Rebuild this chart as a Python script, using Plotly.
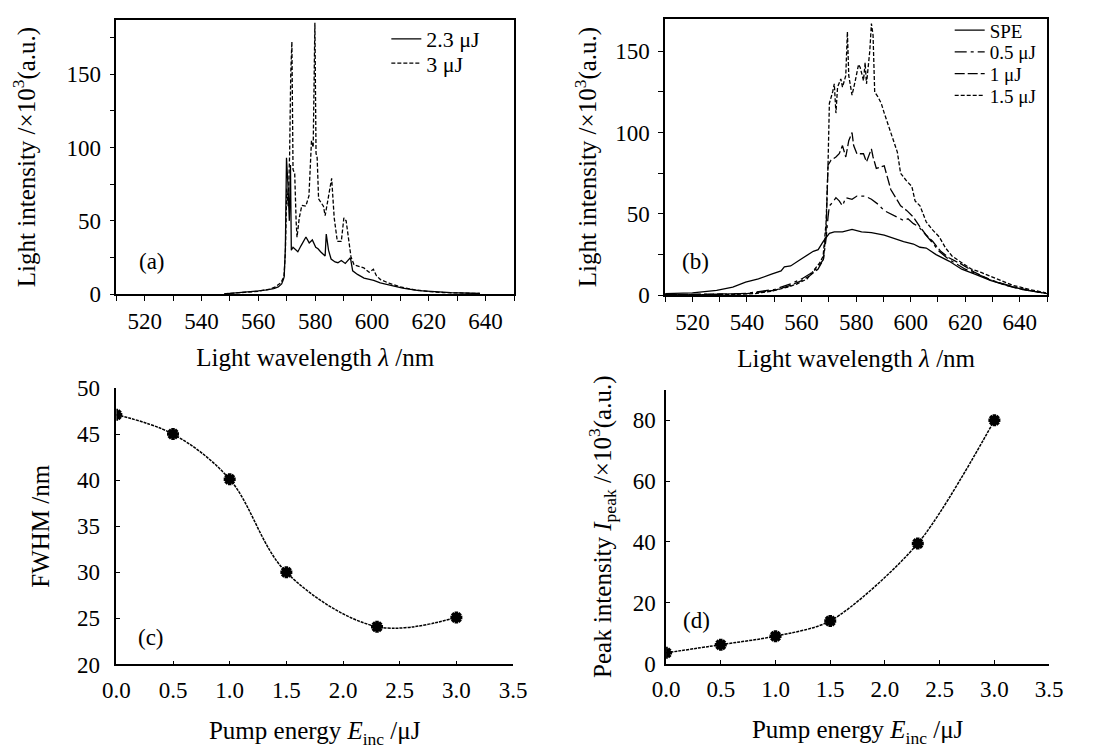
import plotly.graph_objects as go
from plotly.subplots import make_subplots

# ---------------- data ----------------
# (a) lasing spectra
wl_a_23 = [548, 552, 556, 560, 563, 565.4, 567, 568.2, 568.8, 569.1, 569.5, 569.9, 570.4, 570.9, 571.3,
           571.6, 572.2, 573.3, 573.9, 575, 576.75, 577.9, 579.0, 580.2, 581.0, 581.9, 583.0, 583.5,
           583.9, 584.7, 585.6, 587.0, 588, 589.2, 590.6, 591.5, 592.4, 593.2, 594.9, 597.2, 600.6,
           602.9, 606.3, 610.8, 616.5, 622.2, 627.8, 638]
int_a_23 = [0.3, 0.8, 1.5, 2.3, 3, 3.8, 5, 7, 10, 12, 31, 93, 75, 50, 88,
            30, 32, 30, 29, 33, 39, 35, 37, 32, 31, 29, 27, 26,
            41, 30, 24, 22, 21.5, 23, 21, 23, 25, 16, 13.5, 11, 9.5,
            7.7, 6.2, 4.2, 2.5, 1.6, 1.1, 0.5]

wl_a_3 = [548, 556, 560, 564, 566, 568, 569, 569.5, 570, 570.5, 571, 571.4, 571.8, 572.2, 572.8,
          573.3, 573.6, 574.4, 575.3, 576.7, 577.8, 578.7, 579.3, 579.9, 580.3, 580.7, 581.2, 582.9,
          583.5, 584.1, 585.2, 585.8, 586.7, 587.8, 589.2, 590.1, 590.9, 591.7, 592.6, 593.7, 597.1,
          599, 600.5, 601.6, 603, 606, 610, 615, 620, 625, 630, 638]
int_a_3 = [0.3, 1.2, 2, 3.5, 5, 8, 12, 28, 72, 60, 95, 150, 172, 85, 82,
           49.5, 38.8, 52, 60.5, 60, 67, 104.6, 100, 185, 96, 93, 65, 60,
           53.5, 60, 71.5, 79, 52, 36, 36, 52, 50, 38, 25.6, 20, 18,
           15, 17, 12.5, 10, 7.5, 5, 3, 1.8, 1.2, 0.8, 0.5]

# (b) spectra at low pump energies
wl_spe = [510, 520, 528.9, 534.8, 539.5, 544.2, 549, 552.5, 553.7, 556, 559.6, 562.6, 564.3, 566.1,
          567.9, 570.2, 572, 575, 578.5, 582, 585.6, 590.3, 593.9, 597.4, 601, 603.4, 605.7, 609.3,
          614, 618.7, 623.5, 629.4, 635.3, 640, 644.7, 650]
int_spe = [1, 1.5, 3, 5, 8, 10, 13, 15, 17.5, 18, 22, 25, 27, 28,
           33, 38, 39, 39, 40.5, 39, 38.5, 37, 35, 33, 31.5, 29.5, 29, 25,
           21, 16, 13, 9, 6, 4, 2.5, 1]

wl_05 = [510, 530, 540, 550, 556, 560, 563, 566, 568, 569, 569.7, 570.2, 571.4, 572.6, 573.8, 575,
         576.2, 578.5, 580.3, 583.3, 585.6, 588, 590.3, 592.7, 595.1, 597.4, 599, 601, 603,
         605.7, 608.1, 610.4, 614, 620, 625.8, 631, 637, 643, 649.5]
int_05 = [0.3, 0.5, 1.2, 3.5, 7, 10, 13, 17, 22, 35, 48, 55, 57, 60, 58, 55,
          60, 59, 61, 61, 59, 56, 52, 50, 48, 46, 47, 44, 42,
          37, 32, 27, 22, 16, 12, 8.5, 5.5, 3, 1.2]

wl_1 = [510, 530, 540, 550, 556, 560, 563, 566, 568, 569, 569.7, 570.8, 572.6, 573.8, 575, 576.2,
        577.3, 578.5, 579.1, 580.3, 582.7, 583.8, 585.6, 586.2, 587.4, 590.3, 592.7, 594.5, 596.3,
        598.6, 601, 603.4, 605.7, 608.1, 611, 614, 618.7, 623.5, 629, 635, 641, 649.5]
int_1 = [0.3, 0.5, 1, 3, 6, 9, 12, 16, 22, 40, 80, 83, 85, 87, 92, 85,
         95, 100, 92, 87, 87, 82, 90, 85, 78, 79.5, 65, 60, 55,
         52, 48, 42, 37, 33, 27, 23, 19, 14, 9.5, 6, 3.5, 1.2]

wl_15 = [510, 520, 530, 536, 543, 549, 555, 558.4, 562, 564.3, 566.7, 567.9, 568.5, 569, 569.7,
         570.2, 571.4, 572, 572.6, 573.2, 574.4, 575, 576.2, 576.8, 577.3, 578.5, 579.7, 580.9,
         581.5, 582.7, 583.3, 583.8, 585, 585.6, 586.2, 586.8, 588, 589.2, 590.3, 592.7, 595.1,
         596.3, 598.6, 600.4, 601.6, 603.4, 605.7, 608.1, 610.4, 612.8, 615.2, 618.7, 622.3,
         625.8, 631.7, 637.6, 643.6, 649.5]
int_15 = [0.3, 0.3, 0.4, 0.5, 1, 2.5, 5, 7, 10, 15, 20, 24, 35, 45, 80,
          118, 125, 130, 112, 128, 133, 128, 135, 162, 135, 123, 132, 142,
          140, 132, 143, 130, 150, 167, 160, 125, 122, 118, 112, 100, 88,
          75, 70, 67, 58, 55, 45, 40, 36, 29, 24, 20, 16,
          14, 10, 6, 3.5, 1.5]

# (c), (d) vs pump energy
pump = [0.0, 0.5, 1.0, 1.5, 2.3, 3.0]
fwhm = [47.1, 45.0, 40.1, 30.0, 24.1, 25.1]
peak = [3.5, 6.2, 9.0, 14.0, 39.5, 80.0]

# ---------------- figure ----------------
W, H = 1106, 749
FONT = "Liberation Serif"
fig = make_subplots(rows=2, cols=2)


def px_x(p):
    return p / W


def px_y(p):
    return 1 - p / H


doms = {
    (1, 1): ([px_x(105), px_x(513)], [px_y(292), px_y(8)]),
    (1, 2): ([px_x(668), px_x(1060)], [px_y(293), px_y(7)]),
    (2, 1): ([px_x(105), px_x(512)], [px_y(675), px_y(389)]),
    (2, 2): ([px_x(669), px_x(1062)], [px_y(674), px_y(391)]),
}

lw = 1.3
fig.add_trace(go.Scatter(x=wl_a_23, y=int_a_23, mode="lines", name="2.3 μJ",
                         line=dict(color="black", width=lw), legend="legend"), row=1, col=1)
fig.add_trace(go.Scatter(x=wl_a_3, y=int_a_3, mode="lines", name="3 μJ",
                         line=dict(color="black", width=lw, dash="4px,2px"), legend="legend2"), row=1, col=1)

fig.add_trace(go.Scatter(x=wl_spe, y=int_spe, mode="lines", name="SPE",
                         line=dict(color="black", width=lw), legend="legend3"), row=1, col=2)
fig.add_trace(go.Scatter(x=wl_05, y=int_05, mode="lines", name="0.5 μJ",
                         line=dict(color="black", width=lw, dash="12px,4px,3px,4px"), legend="legend4"), row=1, col=2)
fig.add_trace(go.Scatter(x=wl_1, y=int_1, mode="lines", name="1 μJ",
                         line=dict(color="black", width=lw, dash="10px,3px"), legend="legend5"), row=1, col=2)
fig.add_trace(go.Scatter(x=wl_15, y=int_15, mode="lines", name="1.5 μJ",
                         line=dict(color="black", width=lw, dash="4px,2px"), legend="legend6"), row=1, col=2)

mk = dict(symbol="asterisk-open", size=10, color="black", line=dict(color="black", width=3.5))
fig.add_trace(go.Scatter(x=pump, y=fwhm, mode="lines+markers", showlegend=False,
                         line=dict(color="black", width=1.5, shape="spline", smoothing=1.0, dash="3px,1px"),
                         marker=mk), row=2, col=1)
fig.add_trace(go.Scatter(x=pump, y=peak, mode="lines+markers", showlegend=False,
                         line=dict(color="black", width=1.5, shape="spline", smoothing=0.8, dash="3px,1px"),
                         marker=mk), row=2, col=2)

tickfont = dict(family=FONT, size=23, color="black")
titlefont = dict(family=FONT, size=25, color="black")
axis_common = dict(showline=True, linecolor="black", linewidth=1.5, showgrid=False, zeroline=False,
                   tickfont=tickfont, tickcolor="black", tickwidth=1.3)

# panel (a) and (b) axes
for col, yr, ystand in ((1, [0, 187], 24), (2, [0, 170], 11)):
    fig.update_xaxes(**axis_common, range=[510, 650], tick0=520, dtick=20, ticks="outside", ticklen=5,
                     mirror=True,
                     minor=dict(dtick=10, tick0=510, ticks="outside", ticklen=5, tickcolor="black"),
                     domain=doms[(1, col)][0],
                     title=dict(text="Light wavelength <i>λ</i> /nm", font=titlefont, standoff=16),
                     row=1, col=col)
    fig.update_yaxes(**axis_common, range=yr, tick0=0, dtick=50, ticks="outside", ticklen=5, mirror=True,
                     ticklabelstandoff=4,
                     minor=dict(dtick=25, tick0=0, ticks="outside", ticklen=5, tickcolor="black"),
                     domain=doms[(1, col)][1],
                     title=dict(text="Light intensity /×10<sup>3</sup>(a.u.)", font=titlefont, standoff=ystand),
                     row=1, col=col)

# panel (c) and (d) axes
for col in (1, 2):
    fig.update_xaxes(**axis_common, range=[0, 3.5], tick0=0, dtick=0.5, tickformat=".1f", ticks="inside",
                     ticklen=4, ticklabelstandoff=4, domain=doms[(2, col)][0],
                     title=dict(text="Pump energy <i>E</i><sub>inc</sub> /μJ", font=titlefont, standoff=20),
                     row=2, col=col)
fig.update_yaxes(**axis_common, range=[20, 50], tick0=20, dtick=5, ticks="inside", ticklen=4,
                 ticklabelstandoff=10, domain=doms[(2, 1)][1],
                 title=dict(text="FWHM /nm", font=titlefont, standoff=20), row=2, col=1)
fig.update_yaxes(**axis_common, range=[0, 90], tick0=0, dtick=20, ticks="inside", ticklen=4,
                 ticklabelstandoff=4, domain=doms[(2, 2)][1],
                 title=dict(text="Peak intensity <i>I</i><sub>peak</sub> /×10<sup>3</sup>(a.u.)",
                            font=titlefont, standoff=14), row=2, col=2)

# panel labels
labfont = dict(family=FONT, size=23, color="black")
fig.add_annotation(text="(a)", x=522.7, y=22.4, xref="x", yref="y", showarrow=False, font=labfont)
fig.add_annotation(text="(b)", x=521.0, y=21.0, xref="x2", yref="y2", showarrow=False, font=labfont)
fig.add_annotation(text="(c)", x=0.31, y=22.9, xref="x3", yref="y3", showarrow=False, font=labfont)
fig.add_annotation(text="(d)", x=0.276, y=14.0, xref="x4", yref="y4", showarrow=False, font=labfont)


def leg(xp, yp, size):
    return dict(x=px_x(xp), y=px_y(yp), xanchor="left", yanchor="middle", bgcolor="rgba(0,0,0,0)",
                font=dict(family=FONT, size=size, color="black"), itemwidth=30, borderwidth=0)


fig.update_layout(
    width=W, height=H, margin=dict(l=0, r=0, t=0, b=0),
    paper_bgcolor="white", plot_bgcolor="white",
    font=dict(family=FONT, color="black"),
    legend=leg(382, 28, 22), legend2=leg(382, 53, 22),
    legend3=leg(960, 19, 19), legend4=leg(960, 41.5, 19), legend5=leg(960, 64, 19), legend6=leg(960, 86.5, 19),
)

fig.write_html("out.html")
